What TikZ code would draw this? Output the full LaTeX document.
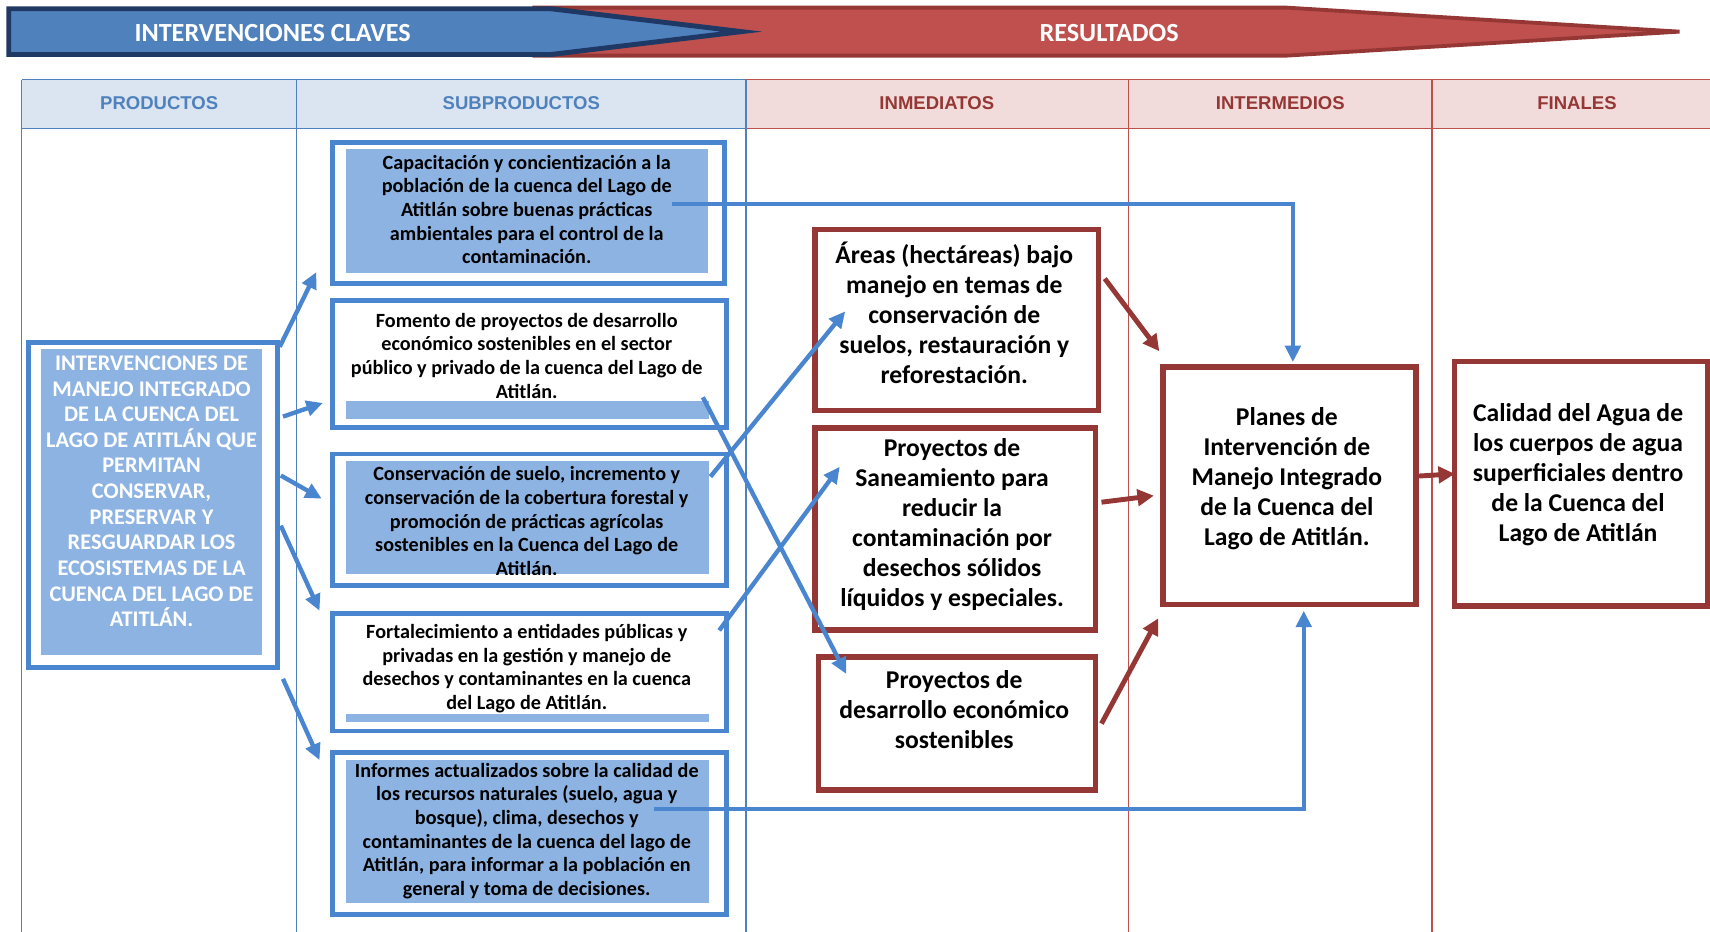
\documentclass[tikz,border=0pt]{standalone}
\usepackage{fontspec}
\setmainfont{Carlito}
\newfontfamily\arialf{Liberation Sans}
\usetikzlibrary{arrows.meta,calc}
\definecolor{bfr}{HTML}{4A86CF}
\definecolor{bfill}{HTML}{8DB3E2}
\definecolor{bhead}{HTML}{DBE5F1}
\definecolor{btxt}{HTML}{4F81BD}
\definecolor{rfr}{HTML}{953735}
\definecolor{rhead}{HTML}{F2DCDB}
\definecolor{rline}{HTML}{C0504D}
\definecolor{navy}{HTML}{1F3864}
\definecolor{bban}{HTML}{4F81BD}
\definecolor{rban}{HTML}{C0504D}
\tikzset{
  bantxt/.style={text=white,font=\fontsize{24}{26}\selectfont\bfseries},
  hdrb/.style={text=btxt,font=\arialf\fontsize{17}{19}\selectfont\bfseries},
  hdrr/.style={text=rfr,font=\arialf\fontsize{17}{19}\selectfont\bfseries},
  sfrm/.style={draw=bfr,line width=4.5pt,anchor=north west,inner sep=0pt},
  stx/.style={align=center,text=black,inner sep=0pt,font=\fontsize{18.5}{21.7}\selectfont\bfseries},
  ltx/.style={align=center,text=white,inner sep=0pt,font=\fontsize{20.5}{23.5}\selectfont\bfseries},
  rfrm/.style={draw=rfr,line width=5pt,anchor=north west,inner sep=0pt},
  rtx/.style={align=center,text=black,inner sep=0pt,font=\fontsize{23.5}{27.5}\selectfont\bfseries},
  barrow/.style={draw=bfr,line width=4pt,-{Triangle[length=15pt,width=14pt]}},
  rarrow/.style={draw=rfr,line width=4.5pt,-{Triangle[length=15pt,width=15pt]}},
  bline/.style={draw=btxt,line width=1.2pt},
  rln/.style={draw=rline,line width=1.2pt}
}
\begin{document}
\begin{tikzpicture}[x=1pt,y=-1pt]
\useasboundingbox[fill=white] (0,0) rectangle (1568,854.6);
% banner
\filldraw[fill=rban,draw=rfr,line width=3.5pt,line join=miter] (490,7) -- (1180,7) -- (1540,29) -- (1180,51) -- (490,51) -- cycle;
\filldraw[fill=bban,draw=navy,line width=4.5pt,line join=miter] (8,8) -- (505,8) -- (680,29) -- (505,50) -- (8,50) -- cycle;
\node[bantxt] (ban1) at (250,30) {INTERVENCIONES CLAVES};
\node[bantxt] (ban2) at (1017,30) {RESULTADOS};
% table
\fill[bhead] (20,73) rectangle (684,118);
\fill[rhead] (684,73) rectangle (1568,118);
\draw[rln] (684,73) -- (1568,73) (684,118) -- (1568,118);
\draw[rln] (1035,73) -- (1035,860) (1313,73) -- (1313,860);
\draw[bline] (20,73) -- (684,73) (20,118) -- (684,118);
\draw[bline] (20,73) -- (20,860) (272,73) -- (272,860) (684,73) -- (684,860);
\node[hdrb] (h1) at (146,95) {PRODUCTOS};
\node[hdrb] (h2) at (478,95) {SUBPRODUCTOS};
\node[hdrr] (h3) at (859,95) {INMEDIATOS};
\node[hdrr] (h4) at (1174,95) {INTERMEDIOS};
\node[hdrr] (h5) at (1446,95) {FINALES};
% left box
\fill[bfill] (38,320) rectangle (240,601);
\node[sfrm,minimum width=228pt,minimum height=298pt] (pl) at (24,312) {};
\node[ltx] (plt) at (139,450.5) {INTERVENCIONES DE\\MANEJO INTEGRADO\\DE LA CUENCA DEL\\LAGO DE ATITLÁN QUE\\PERMITAN\\CONSERVAR,\\PRESERVAR Y\\RESGUARDAR LOS\\ECOSISTEMAS DE LA\\CUENCA DEL LAGO DE\\ATITLÁN.};
% subproducts
\fill[bfill] (317,137) rectangle (649,250);
\node[sfrm,minimum width=359pt,minimum height=130pt] (s1) at (303,128) {};
\node[stx] (s1t) at (483,192) {Capacitación y concientización a la\\población de la cuenca del Lago de\\Atitlán sobre buenas prácticas\\ambientales para el control de la\\contaminación.};
\fill[bfill] (317,368) rectangle (650,384);
\node[sfrm,minimum width=361pt,minimum height=117pt] (s2) at (303,273) {};
\node[stx] (s2t) at (483,326) {Fomento de proyectos de desarrollo\\económico sostenibles en el sector\\público y privado de la cuenca del Lago de\\Atitlán.};
\fill[bfill] (317,423) rectangle (650,526);
\node[sfrm,minimum width=361pt,minimum height=121pt] (s3) at (303,414) {};
\begin{scope}
\clip (317,423) rectangle (650,527);
\node[stx] (s3t) at (483,478) {Conservación de suelo, incremento y\\conservación de la cobertura forestal y\\promoción de prácticas agrícolas\\sostenibles en la Cuenca del Lago de\\Atitlán.};
\end{scope}
\fill[bfill] (317,655) rectangle (650,662);
\node[sfrm,minimum width=361pt,minimum height=108pt] (s4) at (303,560) {};
\node[stx] (s4t) at (483,613) {Fortalecimiento a entidades públicas y\\privadas en la gestión y manejo de\\desechos y contaminantes en la cuenca\\del Lago de Atitlán.};
\fill[bfill] (317,697) rectangle (650,828);
\node[sfrm,minimum width=361pt,minimum height=148pt] (s5) at (303,688) {};
\node[stx] (s5t) at (483,762) {Informes actualizados sobre la calidad de\\los recursos naturales (suelo, agua y\\bosque), clima, desechos y\\contaminantes de la cuenca del lago de\\Atitlán, para informar a la población en\\general y toma de decisiones.};
% results
\node[rfrm,minimum width=260pt,minimum height=166pt] (ra) at (745,208) {};
\node[rtx] (rat) at (875,287) {Áreas (hectáreas) bajo\\manejo en temas de\\conservación de\\suelos, restauración y\\reforestación.};
\node[rfrm,minimum width=257pt,minimum height=185pt] (rb) at (745,390) {};
\node[rtx] (rbt) at (873,481) {Proyectos de\\Saneamiento para\\reducir la\\contaminación por\\desechos sólidos\\líquidos y especiales.};
\node[rfrm,minimum width=254pt,minimum height=122pt] (rc) at (748,600) {};
\node[rtx] (rct) at (875,651) {Proyectos de\\desarrollo económico\\sostenibles};
\node[rfrm,minimum width=232pt,minimum height=218pt] (rd) at (1064,334) {};
\node[rtx] (rdt) at (1180,439) {Planes de\\Intervención de\\Manejo Integrado\\de la Cuenca del\\Lago de Atitlán.};
\node[rfrm,minimum width=232pt,minimum height=224pt] (re) at (1331,329) {};
\node[rtx] (ret) at (1447,435) {Calidad del Agua de\\los cuerpos de agua\\superficiales dentro\\de la Cuenca del\\Lago de Atitlán};
% blue arrows from products
\draw[barrow] ($(pl.north east)+(0,6)$) -- ($(s1.south west)+(-13,-13)$);
\draw[barrow] ($(pl.north east)+(3,70)$) -- ($(s2.south west)+(-7,-25)$);
\draw[barrow] ($(pl.north east)+(1,124)$) -- ($(s3.west)+(-8,-19.5)$);
\draw[barrow] ($(pl.north east)+(1,170)$) -- ($(s4.north west)+(-10,0)$);
\draw[barrow] ($(pl.south east)+(3,8)$) -- ($(s5.north west)+(-10,9)$);
% blue arrows to immediate results
\draw[barrow] ($(s3.north east)+(-17,23)$) -- ($(ra.west)+(30,-8)$);
\draw[barrow] ($(s4.north east)+(-9,18)$) -- ($(rb.north west)+(25,38)$);
\draw[barrow] ($(s2.east)+(-24,30.5)$) -- ($(rc.north west)+(28,18)$);
\draw[barrow] ($(s1.east)+(-50,-8)$) -| ($(rd.north)+(3,-2)$);
\draw[barrow] ($(s5.north west)+(297,54)$) -| ($(rd.south)+(13,3)$);
% red arrows
\draw[rarrow] ($(ra.east)+(3,-38)$) -- ($(rd.north west)+(-1,-12)$);
\draw[rarrow] ($(rb.east)+(3,-24.5)$) -- ($(rd.west)+(-6,9)$);
\draw[rarrow] ($(rc.east)+(3,0)$) -- ($(rd.south west)+(-2,10)$);
\draw[rarrow] ($(rd.east)+(0,-9)$) -- ($(re.west)+(3,-9)$);
\end{tikzpicture}
\end{document}
